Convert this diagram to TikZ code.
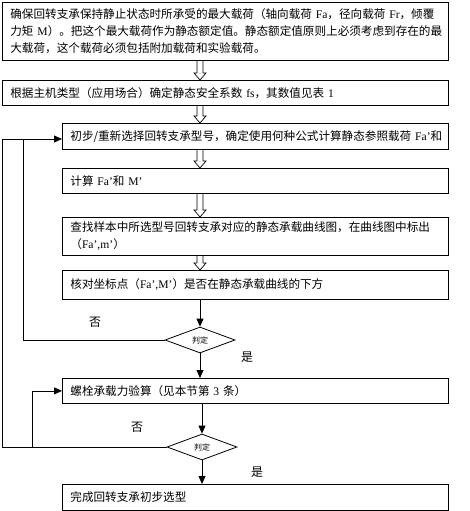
\documentclass[tikz,border=0pt]{standalone}
\usepackage{fontspec}
\setmainfont{Noto Sans CJK SC}
\newfontfamily\latfont{Liberation Serif}
\newcommand\lat[1]{{\latfont #1}}
\usetikzlibrary{arrows.meta,calc,shapes.geometric}

% hollow block arrow between two boxes, on the axis x
\newcommand\hollowarr[2]{%
 \draw[line width=.7pt] let \p1=(axis |- #1.south), \p2=(axis |- #2.north) in
  (\x1-3pt,\y1)--(\x1-3pt,\y2+7pt)--(\x1-6pt,\y2+7pt)--(\x2,\y2)
  --(\x1+6pt,\y2+7pt)--(\x1+3pt,\y2+7pt)--(\x1+3pt,\y1);}

\begin{document}
\begin{tikzpicture}[x=1pt,y=-1pt,>={Triangle[length=8pt,width=7pt]},
 box/.style={draw,line width=.8pt,anchor=north west,inner xsep=8pt,inner ysep=0pt,
  align=left,font=\fontsize{11.6}{17}\selectfont},
 wide/.style={text width=430pt},
 narrow/.style={text width=370pt},
 judge/.style={draw,diamond,line width=.8pt,minimum width=70pt,minimum height=26pt,
  inner sep=0pt,font=\fontsize{8}{8}\selectfont},
 lbl/.style={font=\fontsize{12}{12}\selectfont},
 line/.style={line width=.8pt}]
 \useasboundingbox (0,0) rectangle (469,511);
 \coordinate (axis) at (200,0);
 \node[box,wide,minimum height=58pt] (b1) at (2,2) {确保回转支承保持静止状态时所承受的最大载荷（轴向载荷~\lat{Fa}，径向载荷~\lat{Fr}，倾覆\\力矩~\lat{M}）。把这个最大载荷作为静态额定值。静态额定值原则上必须考虑到存在的最\\大载荷，这个载荷必须包括附加载荷和实验载荷。};
 \node[box,wide,minimum height=25pt] (b2) at (2,80) {根据主机类型（应用场合）确定静态安全系数~\lat{fs}，其数值见表~\lat{1}};
 \node[box,narrow,minimum height=26pt] (b3) at (62,123) {初步/重新选择回转支承型号，确定使用何种公式计算静态参照载荷~\lat{Fa’}和};
 \node[box,narrow,minimum height=25pt] (b4) at (62,168) {计算~\lat{Fa’}和~\lat{M’}};
 \node[box,narrow,minimum height=38pt] (b5) at (62,217) {查找样本中所选型号回转支承对应的静态承载曲线图，在曲线图中标出\\（\lat{Fa’,m’}）};
 \node[box,narrow,minimum height=29pt] (b6) at (62,270) {核对坐标点（\lat{Fa’,M’}）是否在静态承载曲线的下方};
 \node[box,narrow,minimum height=25pt] (b7) at (62,378) {螺栓承载力验算（见本节第~\lat{3}~条）};
 \node[box,narrow,minimum height=26pt] (b8) at (62,484) {完成回转支承初步选型};
 \node[judge] (d1) at (200,340) {判定};
 \node[judge] (d2) at (202,447) {判定};
 \node[lbl] (no1) at (95,322) {否};
 \node[lbl] (yes1) at (247,357) {是};
 \node[lbl] (no2) at (137,427) {否};
 \node[lbl] (yes2) at (257,472) {是};
 \hollowarr{b1}{b2}
 \hollowarr{b2}{b3}
 \hollowarr{b3}{b4}
 \hollowarr{b4}{b5}
 \hollowarr{b5}{b6}
 \draw[line,->] (d1 |- b6.south) -- (d1.north);
 \draw[line,->] (d1.south) -- (d1 |- b7.north);
 \draw[line,->] (d2 |- b7.south) -- (d2.north);
 \draw[line,->] (d2.south) -- (d2 |- b8.north);
 % loops back
 \coordinate (in1) at (23,139);
 \coordinate (out1) at (2,139);
 \coordinate (in2) at (32,0);
 \draw[line] (d1.west) -| (in1);
 \draw[line,->] (d2.west) -| (out1) -- (b3.west |- out1);
 \draw[line,->] (d2.west -| in2) |- (b7.west);
\end{tikzpicture}
\end{document}
